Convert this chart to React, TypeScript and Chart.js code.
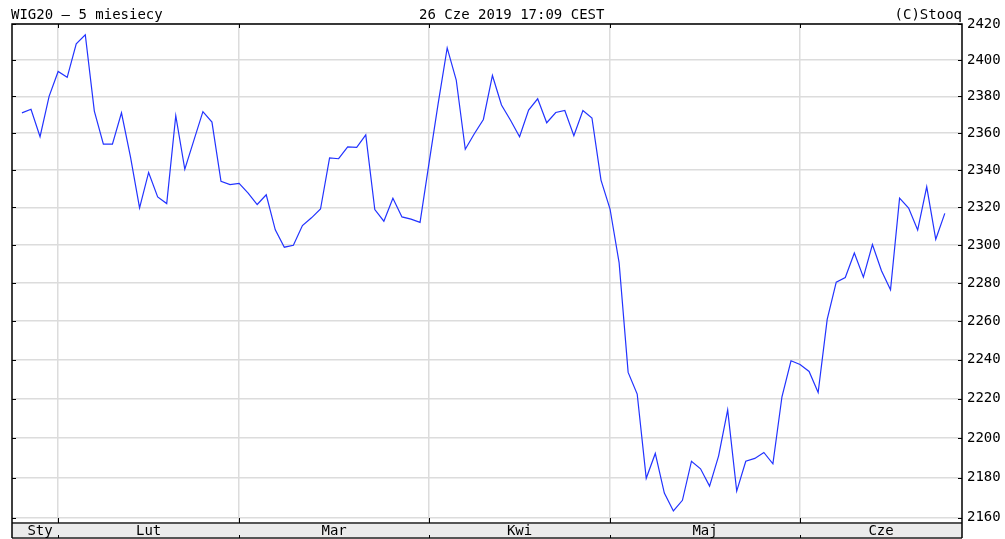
import { useEffect, useRef } from 'react';
import { Chart, registerables } from 'chart.js';

Chart.register(...registerables);

const FONT = '"DejaVu Sans Mono", monospace';

// WIG20 daily closes, 28 Jan - 26 Jun 2019 (one value per session)
const closes = [
  2371, 2373, 2358, 2380,
  2393.7, 2390.5, 2409, 2414, 2372, 2354, 2354, 2371, 2347, 2319.7,
  2338.7, 2325.6, 2322, 2369.5, 2340.4, 2356, 2371.7, 2366, 2333.9, 2332.2,
  2332.8, 2327.6, 2321.5, 2326.7, 2308, 2298.8, 2299.8, 2310.3, 2314.4, 2319.1,
  2346.6, 2346.1, 2352.5, 2352.2, 2359, 2318.8, 2312.6, 2324.8, 2314.9, 2313.7, 2312,
  2344, 2376, 2406.7, 2389, 2351.2, 2359.6, 2367.4, 2391.5, 2375.3, 2367,
  2358, 2372.5, 2378.7, 2365.6, 2371.2, 2372.3, 2358.6, 2372.3, 2368.2, 2334.6,
  2319.1, 2290.7, 2233.5, 2222.4, 2179.7, 2192.2, 2172.3, 2163.4, 2168.7, 2188.3,
  2184.5, 2175.8, 2191, 2214.3, 2173.3, 2188.3, 2189.7, 2192.7, 2187, 2221, 2239.5,
  2237.6, 2234, 2223.2, 2260.9, 2280.4, 2282.8, 2295.7, 2283, 2300.2, 2286.4,
  2276.4, 2324.9, 2319.6, 2307.9, 2331, 2303, 2316.8,
];

const monthNames = ['Sty', 'Lut', 'Mar', 'Kwi', 'Maj', 'Cze'];
// session index of the first session of each month after January
const monthStarts = [4, 24, 45, 65, 86];
const yTicks = [2160, 2180, 2200, 2220, 2240, 2260, 2280, 2300, 2320, 2340, 2360, 2380, 2400, 2420];

const title = 'WIG20 \u2013 5 miesiecy';
const stamp = '26 Cze 2019 17:09 CEST';
const credit = '(C)Stooq';

const frame = {
  id: 'frame',
  afterDraw(chart: any) {
    const { ctx, chartArea: a, scales } = chart;
    const xs = scales.x;
    const ys = scales.y;
    const sb = a.bottom + 15;
    ctx.save();

    // month strip
    ctx.fillStyle = '#ebebeb';
    ctx.fillRect(a.left, a.bottom, a.right - a.left, sb - a.bottom);
    ctx.strokeStyle = '#555';
    ctx.lineWidth = 2;
    ctx.beginPath();
    ctx.moveTo(a.left, a.bottom);
    ctx.lineTo(a.right, a.bottom);
    ctx.moveTo(a.left, sb);
    ctx.lineTo(a.right, sb);
    ctx.stroke();

    // frame
    ctx.strokeStyle = '#000';
    ctx.lineWidth = 1.5;
    ctx.beginPath();
    ctx.moveTo(a.left, sb);
    ctx.lineTo(a.left, a.top);
    ctx.lineTo(a.right, a.top);
    ctx.lineTo(a.right, sb);
    ctx.stroke();

    // little tick marks
    ctx.lineWidth = 1;
    ctx.beginPath();
    yTicks.forEach((v) => {
      const py = Math.round(ys.getPixelForValue(v)) + 0.5;
      ctx.moveTo(a.left, py);
      ctx.lineTo(a.left + 4, py);
      ctx.moveTo(a.right - 4, py);
      ctx.lineTo(a.right, py);
    });
    monthStarts.forEach((s) => {
      const px = Math.round(xs.getPixelForValue(s)) + 0.5;
      ctx.moveTo(px, a.top);
      ctx.lineTo(px, a.top + 4);
      ctx.moveTo(px, a.bottom - 5);
      ctx.lineTo(px, a.bottom);
      ctx.moveTo(px, sb - 3);
      ctx.lineTo(px, sb);
    });
    ctx.stroke();

    // month names
    ctx.fillStyle = '#000';
    ctx.font = '14px ' + FONT;
    ctx.textAlign = 'center';
    ctx.textBaseline = 'alphabetic';
    const bounds = [0, ...monthStarts, xs.max];
    monthNames.forEach((m, i) => {
      const px = xs.getPixelForValue((bounds[i] + bounds[i + 1]) / 2);
      ctx.fillText(m, px, a.bottom + 11.5);
    });

    // header texts
    ctx.textAlign = 'left';
    ctx.fillText(title, a.left - 1, 18.5);
    ctx.fillText(stamp, 419, 18.5);
    ctx.textAlign = 'right';
    ctx.fillText(credit, a.right, 18.5);
    ctx.restore();
  },
};

export default function App() {
  const chartRef = useRef<HTMLCanvasElement>(null);

  useEffect(() => {
    if (!chartRef.current) return;
    const ctx = chartRef.current.getContext('2d');
    if (!ctx) return;

    Chart.defaults.font.family = FONT;

    const chart = new Chart(ctx, {
      type: 'line',
      data: {
        datasets: [{
          label: 'WIG20',
          data: closes.map((v, i) => ({ x: i, y: v })),
          borderColor: '#2233ff',
          borderWidth: 1.2,
          pointRadius: 0,
          tension: 0,
          fill: false,
        }],
      },
      options: {
        responsive: true,
        maintainAspectRatio: false,
        animation: false,
        layout: { padding: { left: 12, top: 24, right: 0, bottom: 0 } },
        plugins: {
          legend: { display: false },
          tooltip: { enabled: false },
        },
        scales: {
          x: {
            type: 'linear',
            min: -1.1,
            max: 103.9,
            afterBuildTicks: (axis: any) => {
              axis.ticks = monthStarts.map((v) => ({ value: v }));
            },
            afterFit: (axis: any) => {
              axis.height = 16;
            },
            ticks: { display: false },
            grid: { color: '#dcdcdc', lineWidth: 1.5, drawTicks: false },
            border: { display: false },
          },
          y: {
            type: 'logarithmic',
            position: 'right',
            min: 2157.4,
            max: 2420,
            afterBuildTicks: (axis: any) => {
              axis.ticks = yTicks.map((v) => ({ value: v }));
            },
            afterFit: (axis: any) => {
              axis.width = 43;
            },
            ticks: {
              autoSkip: false,
              padding: 5,
              color: '#000',
              font: { size: 14, family: FONT },
              callback: (value: any) => String(value),
            },
            grid: { color: '#dcdcdc', lineWidth: 1.5, drawTicks: false },
            border: { display: false },
          },
        },
      },
      plugins: [frame],
    });

    return () => chart.destroy();
  }, []);

  return (
    <div style={{ position: 'absolute', left: 0, top: 0, width: 1005, height: 539 }}>
      <canvas ref={chartRef} />
    </div>
  );
}
